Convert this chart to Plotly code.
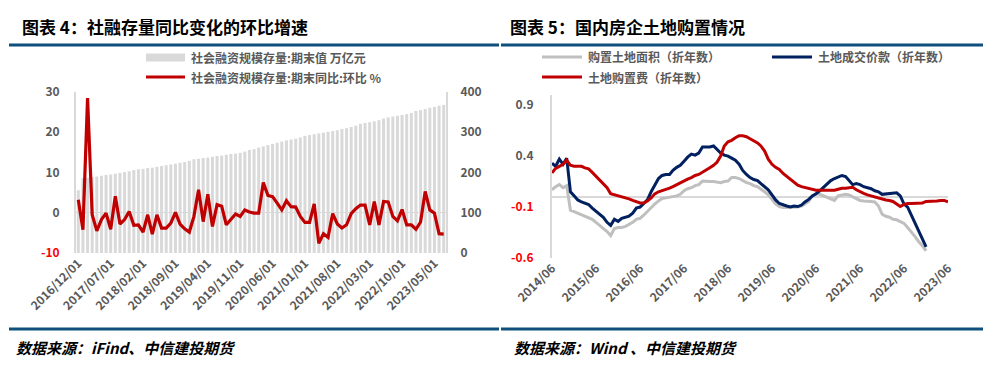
import plotly.graph_objects as go
import pandas as pd

W, H = 995, 377

# ---------------- Left chart data: 社融 ----------------
sf_months = pd.date_range("2016-12-01", periods=80, freq="MS").strftime("%Y/%m/%d").tolist()
sf_stock = [156, 186, 187, 189, 190, 192, 194, 195, 197, 199, 201, 203, 206, 208, 209, 211,
            212, 214, 216, 218, 220, 222, 224, 226, 229, 233, 234, 236, 237, 239, 241, 242,
            244, 246, 247, 249, 252, 256, 258, 262, 265, 268, 271, 274, 277, 280, 282, 284,
            287, 291, 293, 295, 297, 299, 301, 303, 305, 308, 310, 313, 316, 321, 323, 325,
            327, 330, 334, 337, 339, 341, 343, 345, 348, 353, 355, 358, 361, 363, 366, 368]
sf_mom = [3.2, -4.2, 28.5, -0.5, -4.5, -1.7, -0.1, -4.1, 4.1, -2.8, -1.7, 0.3, -3.1, -3.0,
          -4.8, -0.5, -5.3, -0.5, -3.8, -3.8, -2.6, 0.1, -2.8, -4.0, -4.8, -0.9, 5.7, -2.2,
          4.6, -3.4, 2.0, 1.6, -3.0, -1.6, -0.3, -0.9, 0.7, 0.2, -0.1, -0.1, 7.5, 4.3, 4.0,
          2.4, 0.7, 3.0, 1.5, 1.4, -0.9, -2.4, -2.4, 2.2, -7.6, -5.2, -6.1, -0.2, -2.8, -3.8,
          -3.0, -0.2, 1.0, 1.9, 1.9, -3.0, 2.8, -3.0, 2.8, 2.7, -0.9, -2.0, 0.8, -3.0, -3.0,
          -4.1, -2.3, 5.3, 0.7, -0.1, -5.2, -5.3]
left_tick_labels = sf_months[::7]
left_y_ticks = [-10, 0, 10, 20, 30]
right_y_ticks = [0, 100, 200, 300, 400]

# ---------------- Right chart data: 土地购置 ----------------
land_area = [0.07, 0.10, 0.12, 0.09, 0.11, -0.13, -0.145, -0.16, -0.175, -0.185, -0.20, -0.22,
             -0.25, -0.28, -0.31, -0.34, -0.38, -0.31, -0.30, -0.30, -0.29, -0.27, -0.25, -0.22,
             -0.21, -0.18, -0.14, -0.10, -0.07, -0.04, -0.015, -0.01, -0.005, 0.00, 0.01, 0.025,
             0.06, 0.08, 0.09, 0.11, 0.12, 0.155, 0.15, 0.15, 0.15, 0.145, 0.14, 0.15, 0.155,
             0.19, 0.19, 0.18, 0.16, 0.14, 0.13, 0.11, 0.10, 0.08, 0.05, 0.02, -0.03, -0.07,
             -0.095, -0.105, -0.105, -0.105, -0.10, -0.10, -0.09, -0.07, -0.045, 0.01, 0.03,
             0.025, 0.01, -0.005, -0.02, -0.035, 0.01, 0.02, 0.025, 0.02, 0.00, -0.02, -0.035,
             -0.04, -0.04, -0.045, -0.05, -0.09, -0.17, -0.19, -0.20, -0.22, -0.225, -0.24,
             -0.26, -0.30, -0.34, -0.39, -0.44, -0.48, -0.53]
land_deal = [0.33, 0.30, 0.37, 0.32, 0.38, 0.05, 0.01, -0.03, -0.05, -0.06, -0.075, -0.11,
             -0.14, -0.17, -0.20, -0.25, -0.28, -0.22, -0.24, -0.21, -0.20, -0.19, -0.16, -0.11,
             -0.10, -0.07, -0.03, 0.05, 0.11, 0.18, 0.21, 0.22, 0.22, 0.26, 0.29, 0.31, 0.35,
             0.39, 0.42, 0.41, 0.43, 0.49, 0.49, 0.49, 0.50, 0.47, 0.43, 0.41, 0.40, 0.38, 0.36,
             0.32, 0.26, 0.22, 0.19, 0.17, 0.16, 0.13, 0.10, 0.07, 0.02, -0.03, -0.065, -0.08,
             -0.09, -0.10, -0.09, -0.095, -0.08, -0.05, -0.025, 0.01, 0.03, 0.06, 0.095, 0.13,
             0.16, 0.18, 0.195, 0.21, 0.20, 0.16, 0.12, 0.13, 0.12, 0.10, 0.09, 0.08, 0.06, 0.05,
             0.025, 0.03, 0.035, 0.04, 0.04, 0.01, -0.07, -0.10, -0.18, -0.27, -0.33, -0.41, -0.49]
land_fee = [0.235, 0.28, 0.30, 0.32, 0.36, 0.31, 0.30, 0.30, 0.30, 0.285, 0.275, 0.24, 0.20,
            0.17, 0.13, 0.09, 0.03, 0.02, 0.015, 0.00, -0.01, -0.02, -0.035, -0.045, -0.06,
            -0.06, -0.04, -0.01, 0.03, 0.05, 0.06, 0.07, 0.085, 0.10, 0.12, 0.14, 0.16, 0.175,
            0.19, 0.21, 0.22, 0.24, 0.26, 0.285, 0.31, 0.34, 0.40, 0.50, 0.54, 0.555, 0.58,
            0.60, 0.60, 0.59, 0.57, 0.55, 0.53, 0.50, 0.45, 0.37, 0.32, 0.29, 0.27, 0.23, 0.20,
            0.17, 0.14, 0.115, 0.10, 0.09, 0.08, 0.075, 0.065, 0.065, 0.065, 0.065, 0.065,
            0.065, 0.075, 0.085, 0.085, 0.09, 0.095, 0.07, 0.05, 0.035, 0.02, 0.01, -0.005,
            -0.015, -0.025, -0.03, -0.035, -0.045, -0.07, -0.095, -0.075, -0.065, -0.065,
            -0.065, -0.065, -0.06, -0.045, -0.045, -0.045, -0.04, -0.035, -0.035, -0.05]
land_start = "2014-06-01"
land_y_ticks = [-0.6, -0.1, 0.4, 0.9]


def months(n):
    return pd.date_range(land_start, periods=n, freq="MS")


FONT = "Noto Sans CJK SC, Noto Sans, sans-serif"
GRAY_TXT = "#595959"
RED = "#C00000"
NAVY = "#002060"
LGRAY = "#BFBFBF"
BAR = "#D9D9D9"
RULE = "#0E4F7E"


def px(x):
    return x / W


def py(y):
    return 1 - y / H


def red_if_neg(v, fmt):
    s = fmt.format(v)
    return f'<span style="color:#FF0000">{s}</span>' if v < 0 else s


fig = go.Figure()

# Left chart
fig.add_trace(go.Bar(x=sf_months, y=sf_stock, marker_color=BAR, marker_line_width=0,
                     xaxis="x", yaxis="y", showlegend=False, name="社会融资规模存量:期末值 万亿元"))
fig.add_trace(go.Scatter(x=sf_months, y=sf_mom, mode="lines", line=dict(color=RED, width=3.2),
                         xaxis="x", yaxis="y2", showlegend=False,
                         name="社会融资规模存量:期末同比:环比 %"))

# Right chart
fig.add_trace(go.Scatter(x=months(len(land_area)), y=land_area, mode="lines",
                         line=dict(color=LGRAY, width=3), xaxis="x2", yaxis="y3",
                         showlegend=False, name="购置土地面积（折年数）"))
fig.add_trace(go.Scatter(x=months(len(land_deal)), y=land_deal, mode="lines",
                         line=dict(color=NAVY, width=3), xaxis="x2", yaxis="y3",
                         showlegend=False, name="土地成交价款（折年数）"))
fig.add_trace(go.Scatter(x=months(len(land_fee)), y=land_fee, mode="lines",
                         line=dict(color=RED, width=3), xaxis="x2", yaxis="y3",
                         showlegend=False, name="土地购置费（折年数）"))

tickfont = dict(family=FONT, size=12, color=GRAY_TXT, weight="bold")

fig.update_layout(
    template="none",
    width=W, height=H, margin=dict(l=0, r=0, t=0, b=0, autoexpand=False),
    paper_bgcolor="white", plot_bgcolor="rgba(0,0,0,0)",
    bargap=0.35,
    xaxis=dict(domain=[px(76), px(446)], anchor="y", type="category", automargin=False,
               range=[-0.5, len(sf_months) - 0.5],
               tickvals=left_tick_labels, ticktext=left_tick_labels, tickangle=-45,
               tickfont=tickfont, showgrid=False, showline=False, ticks="", zeroline=False),
    yaxis=dict(domain=[py(253), py(92)], anchor="x", side="right", range=[0, 400],
               automargin=False,
               tickvals=right_y_ticks, ticktext=[str(v) for v in right_y_ticks],
               tickfont=tickfont, showgrid=False, zeroline=False, showline=True,
               linecolor=BAR, linewidth=2, ticks="", ticklabelstandoff=10),
    yaxis2=dict(overlaying="y", anchor="x", side="left", range=[-10, 30], automargin=False,
                tickvals=left_y_ticks, ticktext=[red_if_neg(v, "{:d}") for v in left_y_ticks],
                tickfont=tickfont, showgrid=False, zeroline=True, zerolinecolor=BAR,
                zerolinewidth=1, showline=True, linecolor=BAR, linewidth=2, ticks="",
                ticklabelstandoff=12),
    xaxis2=dict(domain=[px(552), px(948)], anchor="y3", type="date", automargin=False,
                range=[land_start, "2023-06-01"],
                tickvals=pd.date_range(land_start, "2023-06-01", freq="12MS"),
                tickformat="%Y/%m", tickangle=-45, tickfont=tickfont, showgrid=False,
                showline=False, ticks="", zeroline=False),
    yaxis3=dict(domain=[py(258), py(95)], anchor="x2", range=[-0.6, 1.0], automargin=False,
                tickvals=land_y_ticks, ticktext=[red_if_neg(v, "{:.1f}") for v in land_y_ticks],
                tickfont=tickfont, showgrid=False, zeroline=True, zerolinecolor=BAR,
                zerolinewidth=2, showline=True, linecolor=BAR, linewidth=2, ticks="",
                ticklabelstandoff=14),
)

shapes = []
annos = []

# Titles and rules
annos.append(dict(text="图表 4：社融存量同比变化的环比增速", x=px(20), y=py(27), xref="paper",
                  yref="paper", xanchor="left", yanchor="middle", showarrow=False,
                  font=dict(family=FONT, size=17, color="black", weight="bold")))
annos.append(dict(text="图表 5：国内房企土地购置情况", x=px(508), y=py(27), xref="paper",
                  yref="paper", xanchor="left", yanchor="middle", showarrow=False,
                  font=dict(family=FONT, size=17, color="black", weight="bold")))
for (x0, x1) in [(9, 499), (501, 983)]:
    for yy in (45, 329):
        shapes.append(dict(type="line", xref="paper", yref="paper", x0=px(x0), x1=px(x1),
                           y0=py(yy), y1=py(yy), line=dict(color=RULE, width=3)))

# Footers
footfont = dict(family=FONT, size=15, color="black", weight="bold", style="italic")
annos.append(dict(text="数据来源：iFind、中信建投期货", x=px(14), y=py(347), xref="paper",
                  yref="paper", xanchor="left", yanchor="middle", showarrow=False, font=footfont))
annos.append(dict(text="数据来源：Wind 、中信建投期货", x=px(512), y=py(347), xref="paper",
                  yref="paper", xanchor="left", yanchor="middle", showarrow=False, font=footfont))

# Legends
legfont = dict(family=FONT, size=12, color=GRAY_TXT, weight="bold")
shapes.append(dict(type="rect", xref="paper", yref="paper", x0=px(146), x1=px(185),
                   y0=py(61.5), y1=py(53.5), fillcolor=BAR, line=dict(width=0)))
annos.append(dict(text="社会融资规模存量:期末值 万亿元", x=px(189), y=py(57.5), xref="paper",
                  yref="paper", xanchor="left", yanchor="middle", showarrow=False, font=legfont))
shapes.append(dict(type="line", xref="paper", yref="paper", x0=px(146), x1=px(185),
                   y0=py(77), y1=py(77), line=dict(color=RED, width=3)))
annos.append(dict(text="社会融资规模存量:期末同比:环比 %", x=px(189), y=py(77), xref="paper",
                  yref="paper", xanchor="left", yanchor="middle", showarrow=False, font=legfont))

for (x0, yy, col, txt) in [(542, 57, LGRAY, "购置土地面积（折年数）"),
                           (772, 57, NAVY, "土地成交价款（折年数）"),
                           (542, 77, RED, "土地购置费（折年数）")]:
    shapes.append(dict(type="line", xref="paper", yref="paper", x0=px(x0), x1=px(x0 + 40),
                       y0=py(yy), y1=py(yy), line=dict(color=col, width=3)))
    annos.append(dict(text=txt, x=px(x0 + 44), y=py(yy), xref="paper", yref="paper",
                      xanchor="left", yanchor="middle", showarrow=False, font=legfont))

fig.update_layout(shapes=shapes, annotations=annos)
fig.write_html("out.html", config={"displayModeBar": False},
               post_script="document.body.style.margin='0';document.body.style.padding='0';"
                           "document.body.style.overflow='hidden';")
